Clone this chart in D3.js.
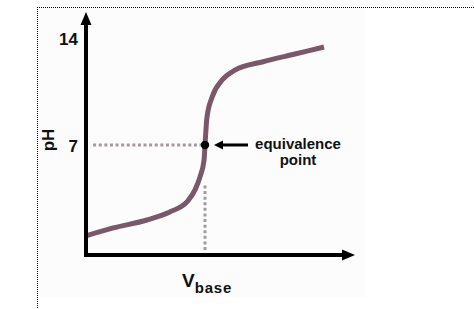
<!DOCTYPE html>
<html>
<head>
<meta charset="utf-8">
<script src="https://cdn.jsdelivr.net/npm/d3@7"></script>
<style>
  html, body { margin: 0; padding: 0; background: #fff; }
  svg { display: block; }
  text { font-family: "Liberation Sans", Arial, sans-serif; font-weight: bold; fill: #111; }
</style>
</head>
<body>
<svg id="chart" width="474" height="309"></svg>
<script>
// ---- data ----
const volume = [0, 5.7, 12.8, 17.6, 21.2, 22.9, 23.95, 24.8, 25, 25.4, 26.5, 28.6, 31.3, 37, 43.9, 50];
const pH     = [1.05, 1.57, 2.09, 2.62, 3.27, 4.06, 4.91, 6.02, 7, 8.77, 10.14, 11.25, 11.9, 12.43, 12.95, 13.41];
const yTickValues = [7, 14];
const yTickLabels = ["7", "14"];
const equivalence = { v: 25, ph: 7 };
const xLabelMain = "V", xLabelSub = "base", yLabel = "pH";
const annotation = ["equivalence", "point"];

const svg = d3.select("#chart");

// scales
const x = d3.scaleLinear().domain([0, 50]).range([86, 324]);
const y = d3.scaleLinear().domain([-0.2, 14]).range([255, 38]);
const xMax = x.invert(355), yMax = y.invert(12);

// background frame
svg.append("rect").attr("x", 38).attr("y", 8).attr("width", 327).attr("height", 289).attr("fill", "#fcfcfc");
svg.append("line").attr("x1", 37).attr("x2", 474).attr("y1", 7.5).attr("y2", 7.5)
  .attr("stroke", "#000").attr("stroke-width", 1).attr("stroke-dasharray", "1,1");
svg.append("line").attr("x1", 37.5).attr("x2", 37.5).attr("y1", 7).attr("y2", 309)
  .attr("stroke", "#000").attr("stroke-width", 1).attr("stroke-dasharray", "1,1");

// guide dotted lines
const guideColor = "#a39a9f";
svg.append("line")
  .attr("x1", x(1.5)).attr("x2", x(equivalence.v) - 4)
  .attr("y1", y(equivalence.ph)).attr("y2", y(equivalence.ph))
  .attr("stroke", guideColor).attr("stroke-width", 3).attr("stroke-dasharray", "3,2.6");
svg.append("line")
  .attr("x1", x(equivalence.v)).attr("x2", x(equivalence.v))
  .attr("y1", y(4.35)).attr("y2", y(0))
  .attr("stroke", guideColor).attr("stroke-width", 3).attr("stroke-dasharray", "3,2.6");

// curve
const pts = volume.map((v, i) => [v, pH[i]]);
svg.append("path")
  .attr("d", d3.line().x(d => x(d[0])).y(d => y(d[1])).curve(d3.curveMonotoneX)(pts))
  .attr("fill", "none").attr("stroke", "#7b5869").attr("stroke-width", 5);

// axes
const x0 = x(0), y0 = y.range()[0];
svg.append("line").attr("x1", x0).attr("x2", x(xMax) - 10).attr("y1", y0).attr("y2", y0)
  .attr("stroke", "#000").attr("stroke-width", 4);
svg.append("line").attr("x1", x0).attr("x2", x0).attr("y1", y0 + 2).attr("y2", y(yMax) + 10)
  .attr("stroke", "#000").attr("stroke-width", 4);
svg.append("path")
  .attr("d", `M${x(xMax)},${y0} L${x(xMax) - 13},${y0 - 5.5} L${x(xMax) - 13},${y0 + 5.5} Z`)
  .attr("fill", "#000");
svg.append("path")
  .attr("d", `M${x0},${y(yMax)} L${x0 - 5.5},${y(yMax) + 13} L${x0 + 5.5},${y(yMax) + 13} Z`)
  .attr("fill", "#000");

// y tick labels via axis
const yAxis = d3.axisLeft(y).tickValues(yTickValues)
  .tickFormat((d, i) => yTickLabels[i]).tickSize(0).tickPadding(8);
const gy = svg.append("g").attr("transform", `translate(${x0},0)`).call(yAxis);
gy.select(".domain").remove();
gy.selectAll("text").style("font-family", "'Liberation Sans', Arial, sans-serif")
  .style("font-weight", "bold").style("font-size", "17px").attr("fill", "#111")
  .attr("dy", "0.36em");

// axis titles
svg.append("text").attr("transform", `translate(54,${y(equivalence.ph) - 5}) rotate(-90)`)
  .attr("text-anchor", "middle").style("font-size", "17px").text(yLabel);
const xt = svg.append("text").attr("x", 182).attr("y", 287).style("font-size", "19px");
xt.append("tspan").text(xLabelMain);
xt.append("tspan").attr("dy", 6).style("font-size", "15px").attr("letter-spacing", "0.8px").text(xLabelSub);

// equivalence point marker
svg.append("circle").attr("cx", x(equivalence.v)).attr("cy", y(equivalence.ph)).attr("r", 4.2).attr("fill", "#000");

// annotation arrow
const ax = x(equivalence.v), ay = y(equivalence.ph);
svg.append("line").attr("x1", ax + 16).attr("x2", ax + 43).attr("y1", ay).attr("y2", ay)
  .attr("stroke", "#000").attr("stroke-width", 3);
svg.append("path")
  .attr("d", `M${ax + 9},${ay} L${ax + 18},${ay - 4.5} L${ax + 18},${ay + 4.5} Z`).attr("fill", "#000");

svg.append("text").attr("x", 298).attr("y", ay + 4).attr("text-anchor", "middle")
  .style("font-size", "15px").text(annotation[0]);
svg.append("text").attr("x", 298).attr("y", ay + 20).attr("text-anchor", "middle")
  .style("font-size", "15px").text(annotation[1]);
</script>
</body>
</html>
